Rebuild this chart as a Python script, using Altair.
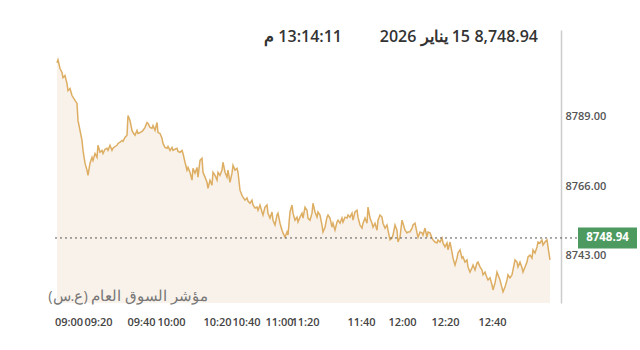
import altair as alt
import pandas as pd

# ---- data ----
# sample position along the session (irregular time axis) and index level
sample_idx = [2, 3, 5, 7, 8, 10, 12, 13, 15, 17, 20, 22, 23, 25, 27, 28, 30, 32, 33, 35,
              37, 38, 40, 42, 43, 45, 47, 48, 50, 52, 53, 55, 57, 58, 60, 62, 63, 65, 67, 68,
              70, 72, 73, 75, 77, 78, 80, 82, 83, 85, 87, 88, 90, 92, 93, 95, 97, 98, 100, 102,
              103, 105, 107, 108, 110, 112, 113, 115, 117, 118, 120, 122, 123, 125, 127, 128, 130, 132, 133, 135,
              137, 138, 140, 142, 143, 145, 147, 148, 150, 152, 153, 155, 157, 158, 160, 162, 163, 165, 167, 168,
              170, 172, 173, 175, 177, 178, 180, 182, 183, 185, 187, 188, 190, 192, 193, 195, 197, 198, 200, 202,
              203, 205, 207, 208, 210, 212, 213, 215, 217, 218, 220, 222, 223, 225, 227, 228, 230, 232, 233, 235,
              237, 238, 240, 242, 243, 245, 247, 248, 250, 252, 253, 255, 257, 258, 260, 262, 263, 265, 267, 268,
              270, 272, 273, 275, 277, 278, 280, 282, 283, 285, 287, 288, 290, 292, 293, 295, 297, 298, 300, 302,
              303, 305, 307, 308, 310, 312, 313, 315, 317, 318, 320, 322, 323, 325, 327, 328, 330, 332, 333, 335,
              337, 338, 340, 342, 343, 345, 347, 348, 350, 352, 353, 355, 357, 358, 360, 362, 363, 365, 367, 368,
              370, 372, 373, 375, 377, 378, 380, 382, 383, 385, 387, 388, 390, 392, 393, 395, 397, 398, 400, 402,
              403, 405, 407, 408, 410, 412, 413, 415, 417, 418, 420, 422, 423, 425, 427, 428, 430, 432, 433, 435,
              437, 438, 440, 442, 443, 445, 447, 448, 450, 452, 453, 455, 457, 458, 460, 462, 463, 465, 467, 468,
              470, 472, 473, 475, 477, 478, 480, 482, 483, 485, 487, 488, 490, 492, 493, 495]

index_value = [8806.7, 8807.7, 8804.8, 8803.5, 8801.8, 8802.5, 8799.8, 8797.5, 8798.2, 8795.9,
               8794.3, 8793.3, 8787.7, 8784.4, 8781.1, 8777.8, 8773.6, 8771.3, 8769.6, 8773.6,
               8775.5, 8774.5, 8776.8, 8775.5, 8779.5, 8777.2, 8777.8, 8776.8, 8778.2, 8778.5,
               8777.8, 8779.5, 8777.8, 8778.5, 8779.1, 8779.5, 8780.1, 8780.5, 8781.1, 8780.8,
               8782.1, 8782.8, 8789.3, 8787.7, 8784.4, 8783.7, 8782.8, 8784.4, 8783.4, 8783.7,
               8784.1, 8784.4, 8785.4, 8787.0, 8786.7, 8785.4, 8785.1, 8786.0, 8784.4, 8787.0,
               8783.7, 8783.4, 8781.8, 8780.1, 8778.8, 8778.5, 8779.1, 8777.8, 8778.8, 8777.8,
               8778.2, 8778.5, 8777.5, 8777.2, 8777.8, 8776.8, 8773.9, 8771.3, 8772.2, 8770.6,
               8768.0, 8771.9, 8770.3, 8772.2, 8769.0, 8774.5, 8775.2, 8770.6, 8769.0, 8767.3,
               8765.3, 8768.0, 8766.3, 8770.6, 8769.6, 8768.0, 8770.6, 8769.6, 8771.3, 8773.9,
               8770.6, 8769.0, 8771.3, 8767.3, 8770.3, 8772.9, 8771.3, 8771.9, 8770.6, 8764.7,
               8763.0, 8762.4, 8761.4, 8762.1, 8761.1, 8760.4, 8761.4, 8759.8, 8758.8, 8759.1,
               8758.1, 8759.8, 8757.5, 8756.5, 8759.1, 8759.8, 8757.1, 8755.5, 8757.5, 8754.8,
               8753.2, 8756.5, 8757.1, 8753.8, 8751.5, 8750.6, 8749.2, 8750.9, 8749.9, 8757.5,
               8759.8, 8757.1, 8754.8, 8755.8, 8754.2, 8755.8, 8757.1, 8755.5, 8759.1, 8758.1,
               8755.5, 8754.8, 8757.1, 8760.4, 8757.5, 8755.8, 8757.5, 8756.5, 8753.2, 8750.9,
               8752.5, 8755.8, 8756.5, 8755.5, 8752.5, 8753.8, 8751.5, 8754.2, 8754.8, 8753.8,
               8755.5, 8754.2, 8755.8, 8755.5, 8756.5, 8755.8, 8757.1, 8754.8, 8757.5, 8758.1,
               8755.8, 8753.2, 8752.2, 8753.8, 8755.5, 8753.8, 8759.1, 8755.5, 8753.8, 8752.5,
               8753.8, 8751.5, 8754.8, 8756.5, 8755.8, 8753.8, 8752.2, 8753.2, 8751.5, 8748.3,
               8748.9, 8749.9, 8753.2, 8751.5, 8747.6, 8749.2, 8754.8, 8753.8, 8751.5, 8750.6,
               8750.9, 8751.0, 8752.2, 8753.2, 8753.8, 8750.6, 8749.2, 8750.9, 8750.6, 8749.9,
               8752.2, 8749.2, 8750.9, 8750.6, 8748.9, 8748.3, 8747.6, 8747.3, 8748.3, 8747.6,
               8748.9, 8747.3, 8746.0, 8747.3, 8745.0, 8747.6, 8744.3, 8742.3, 8740.0, 8742.3,
               8744.0, 8745.0, 8742.3, 8742.7, 8741.0, 8741.7, 8739.4, 8737.7, 8739.1, 8740.0,
               8738.4, 8740.7, 8741.0, 8739.4, 8738.4, 8736.8, 8737.7, 8735.8, 8735.1, 8735.8,
               8733.5, 8731.8, 8734.1, 8737.7, 8736.8, 8735.1, 8732.5, 8731.2, 8732.8, 8735.1,
               8736.8, 8735.8, 8736.8, 8738.4, 8741.7, 8741.0, 8739.4, 8741.0, 8739.1, 8737.7,
               8739.4, 8741.0, 8742.7, 8743.3, 8742.3, 8745.0, 8744.0, 8746.0, 8747.6, 8747.3,
               8748.3, 8746.6, 8747.6, 8748.3, 8746.0, 8741.7]

tick_pos = [13.5, 43, 86, 116, 162, 191, 224, 250, 306, 347, 390, 437]
tick_labels = ["09:00", "09:20", "09:40", "10:00", "10:20", "10:40",
               "11:00", "11:20", "11:40", "12:00", "12:20", "12:40"]
y_ticks = [8743, 8766, 8789]
y_domain = [8727.5, 8817.5]
x_domain = [0, 506]

last_price = 8748.94
header_price = "8,748.94"
header_date = "15 يناير 2026"
header_time = "13:14:11 م"
index_name = "مؤشر السوق العام (ع.س)"

FONT = "Open Sans"
RLE, PDF = "\u202b", "\u202c"

df = pd.DataFrame({"idx": sample_idx, "value": index_value})
last_df = pd.DataFrame({"value": [last_price], "label": [f"{last_price:.2f}"]})

label_expr = ("[" + ",".join(f"'{t}'" for t in tick_labels) + "][indexof(["
              + ",".join(str(p) for p in tick_pos) + "], datum.value)]")

xs = alt.Scale(domain=x_domain, nice=False, zero=False)
ys = alt.Scale(domain=y_domain, nice=False, zero=False)

x_enc = alt.X("idx:Q", scale=xs, title=None,
              axis=alt.Axis(values=tick_pos, labelExpr=label_expr, orient="bottom",
                            domain=False, ticks=False, tickSize=0, grid=False,
                            labelOverlap=False, labelBound=False, labelFlush=False,
                            labelPadding=13, labelFont=FONT, labelFontSize=11,
                            labelFontWeight=600, labelColor="#444444"))
y_enc = alt.Y("value:Q", scale=ys, title=None,
              axis=alt.Axis(values=y_ticks, orient="right", format=".2f",
                            domain=True, domainColor="#cccccc", domainWidth=1.5,
                            ticks=False, tickSize=0, grid=False,
                            labelPadding=4, labelFont=FONT, labelFontSize=11,
                            labelFontWeight=600, labelColor="#555555"))

area = alt.Chart(df).mark_area(color="#f9f2eb").encode(
    x=x_enc, y=y_enc, y2=alt.datum(y_domain[0]))
line = alt.Chart(df).mark_line(color="#d9a552", strokeWidth=1.5, opacity=0.9).encode(
    x=alt.X("idx:Q", scale=xs), y=alt.Y("value:Q", scale=ys))

rule = alt.Chart(last_df).mark_rule(color="#555555", strokeWidth=1, strokeDash=[2, 3]).encode(
    y=alt.Y("value:Q", scale=ys), x=alt.value(0), x2=alt.value(524))

box = alt.Chart(last_df).mark_tick(color="#4c9a5f", orient="horizontal", thickness=21,
                                   size=59, opacity=1).encode(
    y=alt.Y("value:Q", scale=ys), x=alt.value(552.5))
box_text = alt.Chart(last_df).mark_text(color="white", font=FONT, fontSize=11.5,
                                        fontWeight=700, align="center", baseline="middle").encode(
    y=alt.Y("value:Q", scale=ys), x=alt.value(552.5), text="label:N")


def header(txt, xpos):
    return alt.Chart(pd.DataFrame({"t": [txt]})).mark_text(
        font=FONT, fontSize=16, fontWeight=600, color="#333333", align="right", baseline="middle"
    ).encode(text="t:N", x=alt.value(xpos), y=alt.value(7))


hdr_price = header(header_price, 483)
hdr_date = header(RLE + header_date + PDF, 415)
hdr_time = header(RLE + header_time + PDF, 287)

src = alt.Chart(pd.DataFrame({"t": [index_name]})).mark_text(
    font=FONT, fontSize=14.5, color="#777777", align="right", baseline="middle"
).encode(text="t:N", x=alt.value(153), y=alt.value(267))

chart = alt.layer(area, line, rule, box, box_text, hdr_price, hdr_date, hdr_time, src).properties(
    width=506, height=273,
    autosize=alt.AutoSizeParams(type="none"),
    padding={"left": 55, "top": 30, "right": 79, "bottom": 47},
    background="white",
).configure_view(stroke=None)

chart.save("out.html", embed_options={"renderer": "svg", "actions": False})
